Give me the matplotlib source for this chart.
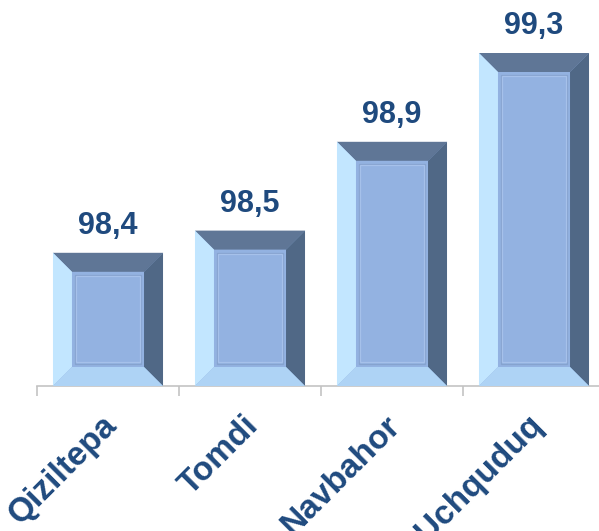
import matplotlib.pyplot as plt
from matplotlib.patches import Polygon, Rectangle
from matplotlib.transforms import ScaledTranslation

districts = ['Qiziltepa', 'Tomdi', 'Navbahor', 'Uchquduq']
values = [98.4, 98.5, 98.9, 99.3]
value_labels = ['98,4', '98,5', '98,9', '99,3']

text_color = '#1f4a7e'
face_color = '#93b2e1'
top_color = '#5f7696'
right_color = '#506886'
left_color = '#c2e6ff'
bottom_color = '#aed3f5'

W, H = 599, 531
fig = plt.figure(figsize=(W / 100, H / 100), dpi=100)
ax = fig.add_axes([37 / W, (H - 386) / H, 568 / W, 386 / H])

px_y = 222  # pixels per unit on the value axis
y_min = 97.8
y_max = y_min + 386 / px_y
ax.set_xlim(-0.5, len(districts) - 0.5)
ax.set_ylim(y_min, y_max)

bar_w = 0.775
bars = ax.bar(range(len(districts)), [v - y_min for v in values],
              bottom=y_min, width=bar_w, color=face_color, zorder=2)

# bevel size in data units (about 19 px)
bx = 19 / 142
by = 19 / px_y

for b, lab in zip(bars, value_labels):
    x0 = b.get_x()
    x1 = x0 + b.get_width()
    y0 = y_min
    y1 = y0 + b.get_height()
    ix0, ix1 = x0 + bx, x1 - bx
    iy0, iy1 = y0 + by, y1 - by
    ax.add_patch(Polygon([(x0, y1), (x1, y1), (ix1, iy1), (ix0, iy1)],
                         closed=True, color=top_color, zorder=3, lw=0))
    ax.add_patch(Polygon([(x1, y1), (x1, y0), (ix1, iy0), (ix1, iy1)],
                         closed=True, color=right_color, zorder=3, lw=0))
    ax.add_patch(Polygon([(x0, y1), (ix0, iy1), (ix0, iy0), (x0, y0)],
                         closed=True, color=left_color, zorder=3, lw=0))
    ax.add_patch(Polygon([(x0, y0), (ix0, iy0), (ix1, iy0), (x1, y0)],
                         closed=True, color=bottom_color, zorder=3, lw=0))
    # thin inner rim
    ax.add_patch(Rectangle((ix0 + 3 / 142, iy0 + 3 / px_y),
                           ix1 - ix0 - 6 / 142, iy1 - iy0 - 6 / px_y,
                           fill=False, ec='#86a3cf', lw=0.9, zorder=4))
    ax.add_patch(Rectangle((ix0 + 4.5 / 142, iy0 + 4.5 / px_y),
                           ix1 - ix0 - 9 / 142, iy1 - iy0 - 9 / px_y,
                           fill=False, ec='#a6c1ea', lw=0.9, zorder=4))
    ax.text(b.get_x() + b.get_width() / 2, y1 + 12 / px_y, lab,
            ha='center', va='bottom', fontsize=22, fontweight='bold',
            color=text_color, family='Liberation Sans')

for s in ['top', 'right', 'left']:
    ax.spines[s].set_visible(False)
ax.spines['bottom'].set_color('#c3c3c3')
ax.spines['bottom'].set_linewidth(1.2)
ax.set_yticks([])

ax.set_xticks(range(len(districts)))
ax.set_xticklabels(districts, rotation=45, ha='right', rotation_mode='anchor',
                   fontsize=24, fontweight='bold', color=text_color,
                   family='Liberation Sans')
ax.tick_params(axis='x', which='major', length=0, pad=17)
shift = ScaledTranslation(-0.07, 0, fig.dpi_scale_trans)
for t in ax.get_xticklabels():
    t.set_transform(t.get_transform() + shift)
ax.set_xticks([i - 0.5 for i in range(len(districts) + 1)], minor=True)
ax.tick_params(axis='x', which='minor', length=7, color='#c3c3c3', width=1.2)

fig.savefig('out.png', dpi=100)
